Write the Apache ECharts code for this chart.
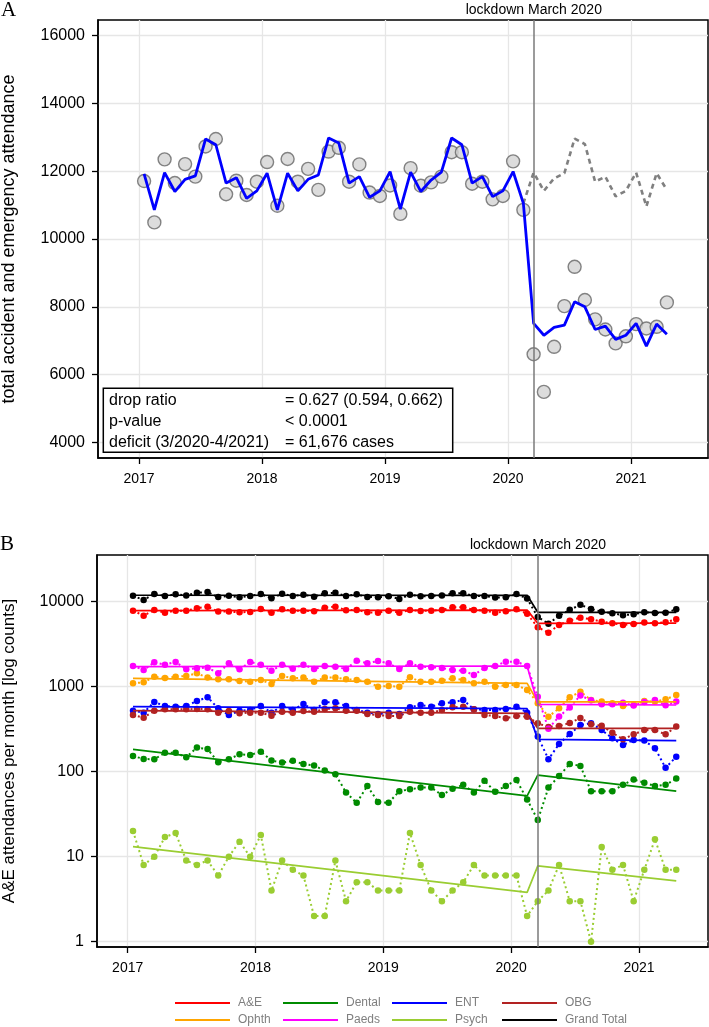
<!DOCTYPE html>
<html><head><meta charset="utf-8">
<script src="https://cdn.jsdelivr.net/npm/echarts@6/dist/echarts.min.js"></script>
<style>html,body{margin:0;padding:0;background:#fff}#c{width:709px;height:1027px}</style>
</head><body><div id="c"></div>
<script>
// ---------- DATA ----------
const months = [
 '2017-01','2017-02','2017-03','2017-04','2017-05','2017-06','2017-07','2017-08','2017-09','2017-10','2017-11','2017-12',
 '2018-01','2018-02','2018-03','2018-04','2018-05','2018-06','2018-07','2018-08','2018-09','2018-10','2018-11','2018-12',
 '2019-01','2019-02','2019-03','2019-04','2019-05','2019-06','2019-07','2019-08','2019-09','2019-10','2019-11','2019-12',
 '2020-01','2020-02','2020-03','2020-04','2020-05','2020-06','2020-07','2020-08','2020-09','2020-10','2020-11','2020-12',
 '2021-01','2021-02','2021-03','2021-04'];
const yearTicks = [2017, 2018, 2019, 2020, 2021];
const topYTicks = [4000, 6000, 8000, 10000, 12000, 14000, 16000];
const logYTicks = [1, 10, 100, 1000, 10000];
const lockdownMonth = '2020-03';

// Panel A: total A&E attendance
const totalObserved = [
 11710,10490,12350,11650,12210,11840,12730,12950,11320,11720,11300,11690,
 12270,10980,12360,11690,12070,11450,12580,12690,11690,12200,11370,11270,
 11580,10740,12090,11570,11670,11840,12560,12560,11630,11690,11170,11270,
 12290,10860,6600,5490,6820,8020,9180,8200,7630,7330,6920,7130,
 7490,7360,7410,8130];
const totalFitted = [
 11920,10860,11960,11400,11760,11860,12950,12780,11650,11810,11200,11420,
 11940,10860,11940,11420,11760,11890,12980,12830,11650,11840,11230,11420,
 11990,10880,11970,11400,11740,11970,12980,12780,11650,11840,11250,11420,
 11990,11050,7510,7160,7390,7460,8150,8000,7330,7430,7040,7160,
 7510,6840,7490,7190];
const cfMonths = months.slice(37);
const counterfactual = [11050,11960,11420,11790,11940,12960,12800,11690,11840,11260,11420,11960,10960,11940,11450];

const boxLabels = ['drop ratio', 'p-value', 'deficit (3/2020-4/2021)'];
const boxValues = ['= 0.627 (0.594, 0.662)', '< 0.0001', '= 61,676 cases'];

// Panel B: by specialty (observed)
const seriesNames = ['A&E','Dental','ENT','OBG','Ophth','Paeds','Psych','Grand Total'];
const aeObs = [
 7840,6850,7980,7430,7840,7840,8360,8740,7640,7640,7500,7570,
 8200,7430,8130,7840,7840,7700,8500,8740,7950,7980,7500,7430,
 7840,7430,7980,7770,7840,7980,8570,8570,7980,7840,7430,7700,
 8130,7230,4990,4320,5320,5980,6490,6200,5820,5570,5320,5470,
 5670,5570,5720,6200];
const dentalObs = [
 153,141,140,167,167,148,192,185,129,140,160,157,
 172,135,128,134,123,118,103,93,57,43,68,44,
 43,59,62,65,65,53,63,70,57,78,58,68,
 80,47,27,65,89,123,117,59,59,59,70,81,
 74,68,70,83];
const entObs = [
 522,495,660,593,582,593,679,750,556,464,522,532,
 593,495,593,532,625,532,655,655,593,532,495,477,
 495,477,571,609,582,637,655,698,542,532,532,547,
 582,495,260,140,212,277,354,371,309,247,206,236,
 232,188,111,150];
const obgObs = [
 464,432,522,542,542,542,547,542,495,517,488,495,
 495,456,508,495,517,508,547,556,522,522,477,464,
 452,452,508,495,495,532,571,582,542,464,452,425,
 452,444,371,335,345,374,428,362,346,288,240,275,
 309,309,275,339];
const ophthObs = [
 1095,1125,1312,1266,1312,1336,1437,1278,1221,1221,1167,1146,
 1199,1076,1336,1254,1278,1146,1278,1278,1220,1202,1146,1001,
 1019,1001,1288,1146,1146,1177,1254,1202,1095,1146,1001,1047,
 1047,914,640,444,556,750,874,698,667,637,593,609,
 679,667,710,798];
const paedsObs = [
 1752,1572,1935,1817,1953,1601,1645,1675,1437,1883,1601,1953,
 1817,1544,1817,1630,1817,1616,1752,1720,1614,2023,1883,2006,
 1883,1614,1883,1720,1690,1660,1572,1543,1373,1660,1751,1968,
 1968,1751,760,320,445,570,790,690,620,620,645,600,
 660,698,603,667];
const psychObs = [
 20,8,10,17,19,9,8,9,6,10,15,10,
 18,4,9,7,6,2,2,9,3,5,5,4,
 4,4,19,8,4,3,4,5,8,6,6,6,
 6,2,3,4,8,3,3,1,13,7,8,3,
 7,16,7,7];
const grandTotalObs = totalObserved;

// Panel B: segmented fits (start, pre-lockdown end, post-lockdown start, end)
const fitMonths = ['2017-01','2020-02','2020-03','2021-04'];
const aeFit = [7850, 7950, 5560, 5600];
const dentalFit = [183, 52, 91, 59];
const entFit = [582, 551, 240, 232];
const obgFit = [522, 486, 324, 324];
const ophthFit = [1254, 1095, 661, 661];
const paedsFit = [1720, 1751, 620, 609];
const psychFit = [13.1, 3.8, 7.8, 5.2];
const grandTotalFit = [11900, 11880, 7500, 7500];

// ---------- BUILD ----------
const toX = m => { const p = m.split('-'); return +p[0] + (+p[1] - 0.5) / 12; };
const pair = (ms, vs) => vs.map((v, i) => [toX(ms[i]), v]);

const COLORS = {'A&E':'#ff0000','Dental':'#008b00','ENT':'#0000ff','OBG':'#b22222',
  'Ophth':'#ffa500','Paeds':'#ff00ff','Psych':'#9acd32','Grand Total':'#000000'};
const obsData = {'A&E':aeObs,'Dental':dentalObs,'ENT':entObs,'OBG':obgObs,'Ophth':ophthObs,
  'Paeds':paedsObs,'Psych':psychObs,'Grand Total':grandTotalObs};
const fitData = {'A&E':aeFit,'Dental':dentalFit,'ENT':entFit,'OBG':obgFit,'Ophth':ophthFit,
  'Paeds':paedsFit,'Psych':psychFit,'Grand Total':grandTotalFit};

const FONT = '"Liberation Sans", Arial, Helvetica, sans-serif';
const SERIF = '"Liberation Serif", "Times New Roman", serif';

function xAxisCfg(gi, min, max) {
  return {
    gridIndex: gi, type: 'value', min: min, max: max,
    axisLine: {onZero: false, lineStyle: {color: '#000', width: 1.5}},
    axisTick: {customValues: yearTicks, length: 6, lineStyle: {color: '#000', width: 1.3}},
    axisLabel: {customValues: yearTicks, formatter: v => String(Math.round(v)), color: '#000',
      fontSize: 14, fontFamily: FONT, margin: 14},
    splitLine: {show: true, lineStyle: {color: '#e6e6e6', width: 1.3}}
  };
}

const lockX = toX(lockdownMonth);
function markLineCfg() {
  return {
    silent: true, symbol: 'none', animation: false,
    lineStyle: {color: '#7a7a7a', width: 1.5, type: 'solid'},
    label: {show: true, position: 'end', formatter: 'lockdown March 2020', color: '#000',
      fontSize: 14, fontFamily: FONT, distance: 3},
    data: [{xAxis: lockX}]
  };
}

const series = [
  {type: 'scatter', xAxisIndex: 0, yAxisIndex: 0, data: pair(months, totalObserved),
   symbol: 'circle', symbolSize: 13, z: 2,
   itemStyle: {color: '#d3d3d3', borderColor: '#666666', borderWidth: 1.4}},
  {type: 'line', xAxisIndex: 0, yAxisIndex: 0, data: pair(cfMonths, counterfactual),
   showSymbol: false, z: 3, lineStyle: {color: '#808080', width: 2.6, type: [5, 4]}},
  {type: 'line', xAxisIndex: 0, yAxisIndex: 0, data: pair(months, totalFitted),
   showSymbol: false, z: 4, lineStyle: {color: '#0000ff', width: 2.8},
   markLine: markLineCfg()}
];

seriesNames.forEach((name, k) => {
  const c = COLORS[name];
  series.push({
    type: 'line', name: name + ' observed', xAxisIndex: 1, yAxisIndex: 1,
    data: pair(months, obsData[name]), symbol: 'circle', symbolSize: 6.5, showSymbol: true,
    itemStyle: {color: c}, lineStyle: {color: c, width: 2, type: [2, 3]}, z: 3
  });
  series.push({
    type: 'line', name: name, xAxisIndex: 1, yAxisIndex: 1,
    data: pair(fitMonths, fitData[name]), showSymbol: false,
    itemStyle: {color: c}, lineStyle: {color: c, width: 1.7}, z: 4,
    markLine: k === 0 ? markLineCfg() : undefined
  });
});

const legendCols = [175, 283, 392, 502];
const legendRows = [997, 1014];
const legends = seriesNames.map((name, j) => ({
  data: [name], left: legendCols[j % 4], top: legendRows[Math.floor(j / 4)],
  icon: 'rect', itemWidth: 55, itemHeight: 2, selectedMode: false, padding: 0,
  textStyle: {color: '#7f7f7f', fontSize: 12, fontFamily: FONT, padding: [0, 0, 0, 3]}
}));

const graphic = [
  {type: 'text', x: 1, y: 10, style: {text: 'A', font: '21px ' + SERIF, fill: '#000', verticalAlign: 'middle'}},
  {type: 'text', x: 0, y: 544, style: {text: 'B', font: '21px ' + SERIF, fill: '#000', verticalAlign: 'middle'}},
  {type: 'rect', shape: {x: 103.3, y: 388.3, width: 349.4, height: 64}, z: 100,
   style: {fill: '#fff', stroke: '#000', lineWidth: 1.5}}
];
const boxLineY = [401, 421.7, 442.3];
boxLabels.forEach((t, i) => {
  graphic.push({type: 'text', x: 109, y: boxLineY[i], z: 101,
    style: {text: t, font: '16px ' + FONT, fill: '#000', verticalAlign: 'middle'}});
  graphic.push({type: 'text', x: 285, y: boxLineY[i], z: 101,
    style: {text: boxValues[i], font: '16px ' + FONT, fill: '#000', verticalAlign: 'middle'}});
});

const option = {
  animation: false,
  backgroundColor: '#fff',
  textStyle: {fontFamily: FONT},
  grid: [
    {left: 98, top: 20, width: 610, height: 438, show: true, borderColor: '#000', borderWidth: 1.5,
     backgroundColor: 'transparent', outerBoundsMode: 'none', containLabel: false},
    {left: 97, top: 555, width: 611, height: 392, show: true, borderColor: '#000', borderWidth: 1.5,
     backgroundColor: 'transparent', outerBoundsMode: 'none', containLabel: false}
  ],
  xAxis: [xAxisCfg(0, 2016.667, 2021.626), xAxisCfg(1, 2016.76, 2021.54)],
  yAxis: [
    {gridIndex: 0, type: 'value', min: 3540, max: 16460,
     axisLine: {show: true, onZero: false, lineStyle: {color: '#000', width: 1.5}},
     axisTick: {show: true, customValues: topYTicks, length: 6, lineStyle: {color: '#000', width: 1.3}},
     axisLabel: {customValues: topYTicks, formatter: v => String(Math.round(v)), color: '#000',
       fontSize: 16, fontFamily: FONT, margin: 13},
     splitLine: {show: true, lineStyle: {color: '#e6e6e6', width: 1.3}},
     name: 'total accident and emergency attendance', nameLocation: 'middle', nameGap: 80,
     nameTextStyle: {fontSize: 18, color: '#000', fontFamily: FONT}},
    {gridIndex: 1, type: 'log', logBase: 10, min: 0.866, max: 35400,
     axisLine: {show: true, onZero: false, lineStyle: {color: '#000', width: 1.5}},
     axisTick: {show: true, customValues: logYTicks, length: 6, lineStyle: {color: '#000', width: 1.3}},
     axisLabel: {customValues: logYTicks, formatter: v => String(Math.round(v)), color: '#000',
       fontSize: 16, fontFamily: FONT, margin: 13},
     splitLine: {show: true, lineStyle: {color: '#e6e6e6', width: 1.3}},
     minorTick: {show: false}, minorSplitLine: {show: false},
     name: 'A&E attendances per month [log counts]', nameLocation: 'middle', nameGap: 79,
     nameTextStyle: {fontSize: 17, color: '#000', fontFamily: FONT}}
  ],
  legend: legends,
  graphic: graphic,
  series: series
};

const chart = echarts.init(document.getElementById('c'), null, {renderer: 'canvas'});
chart.setOption(option);
</script>
</body></html>
